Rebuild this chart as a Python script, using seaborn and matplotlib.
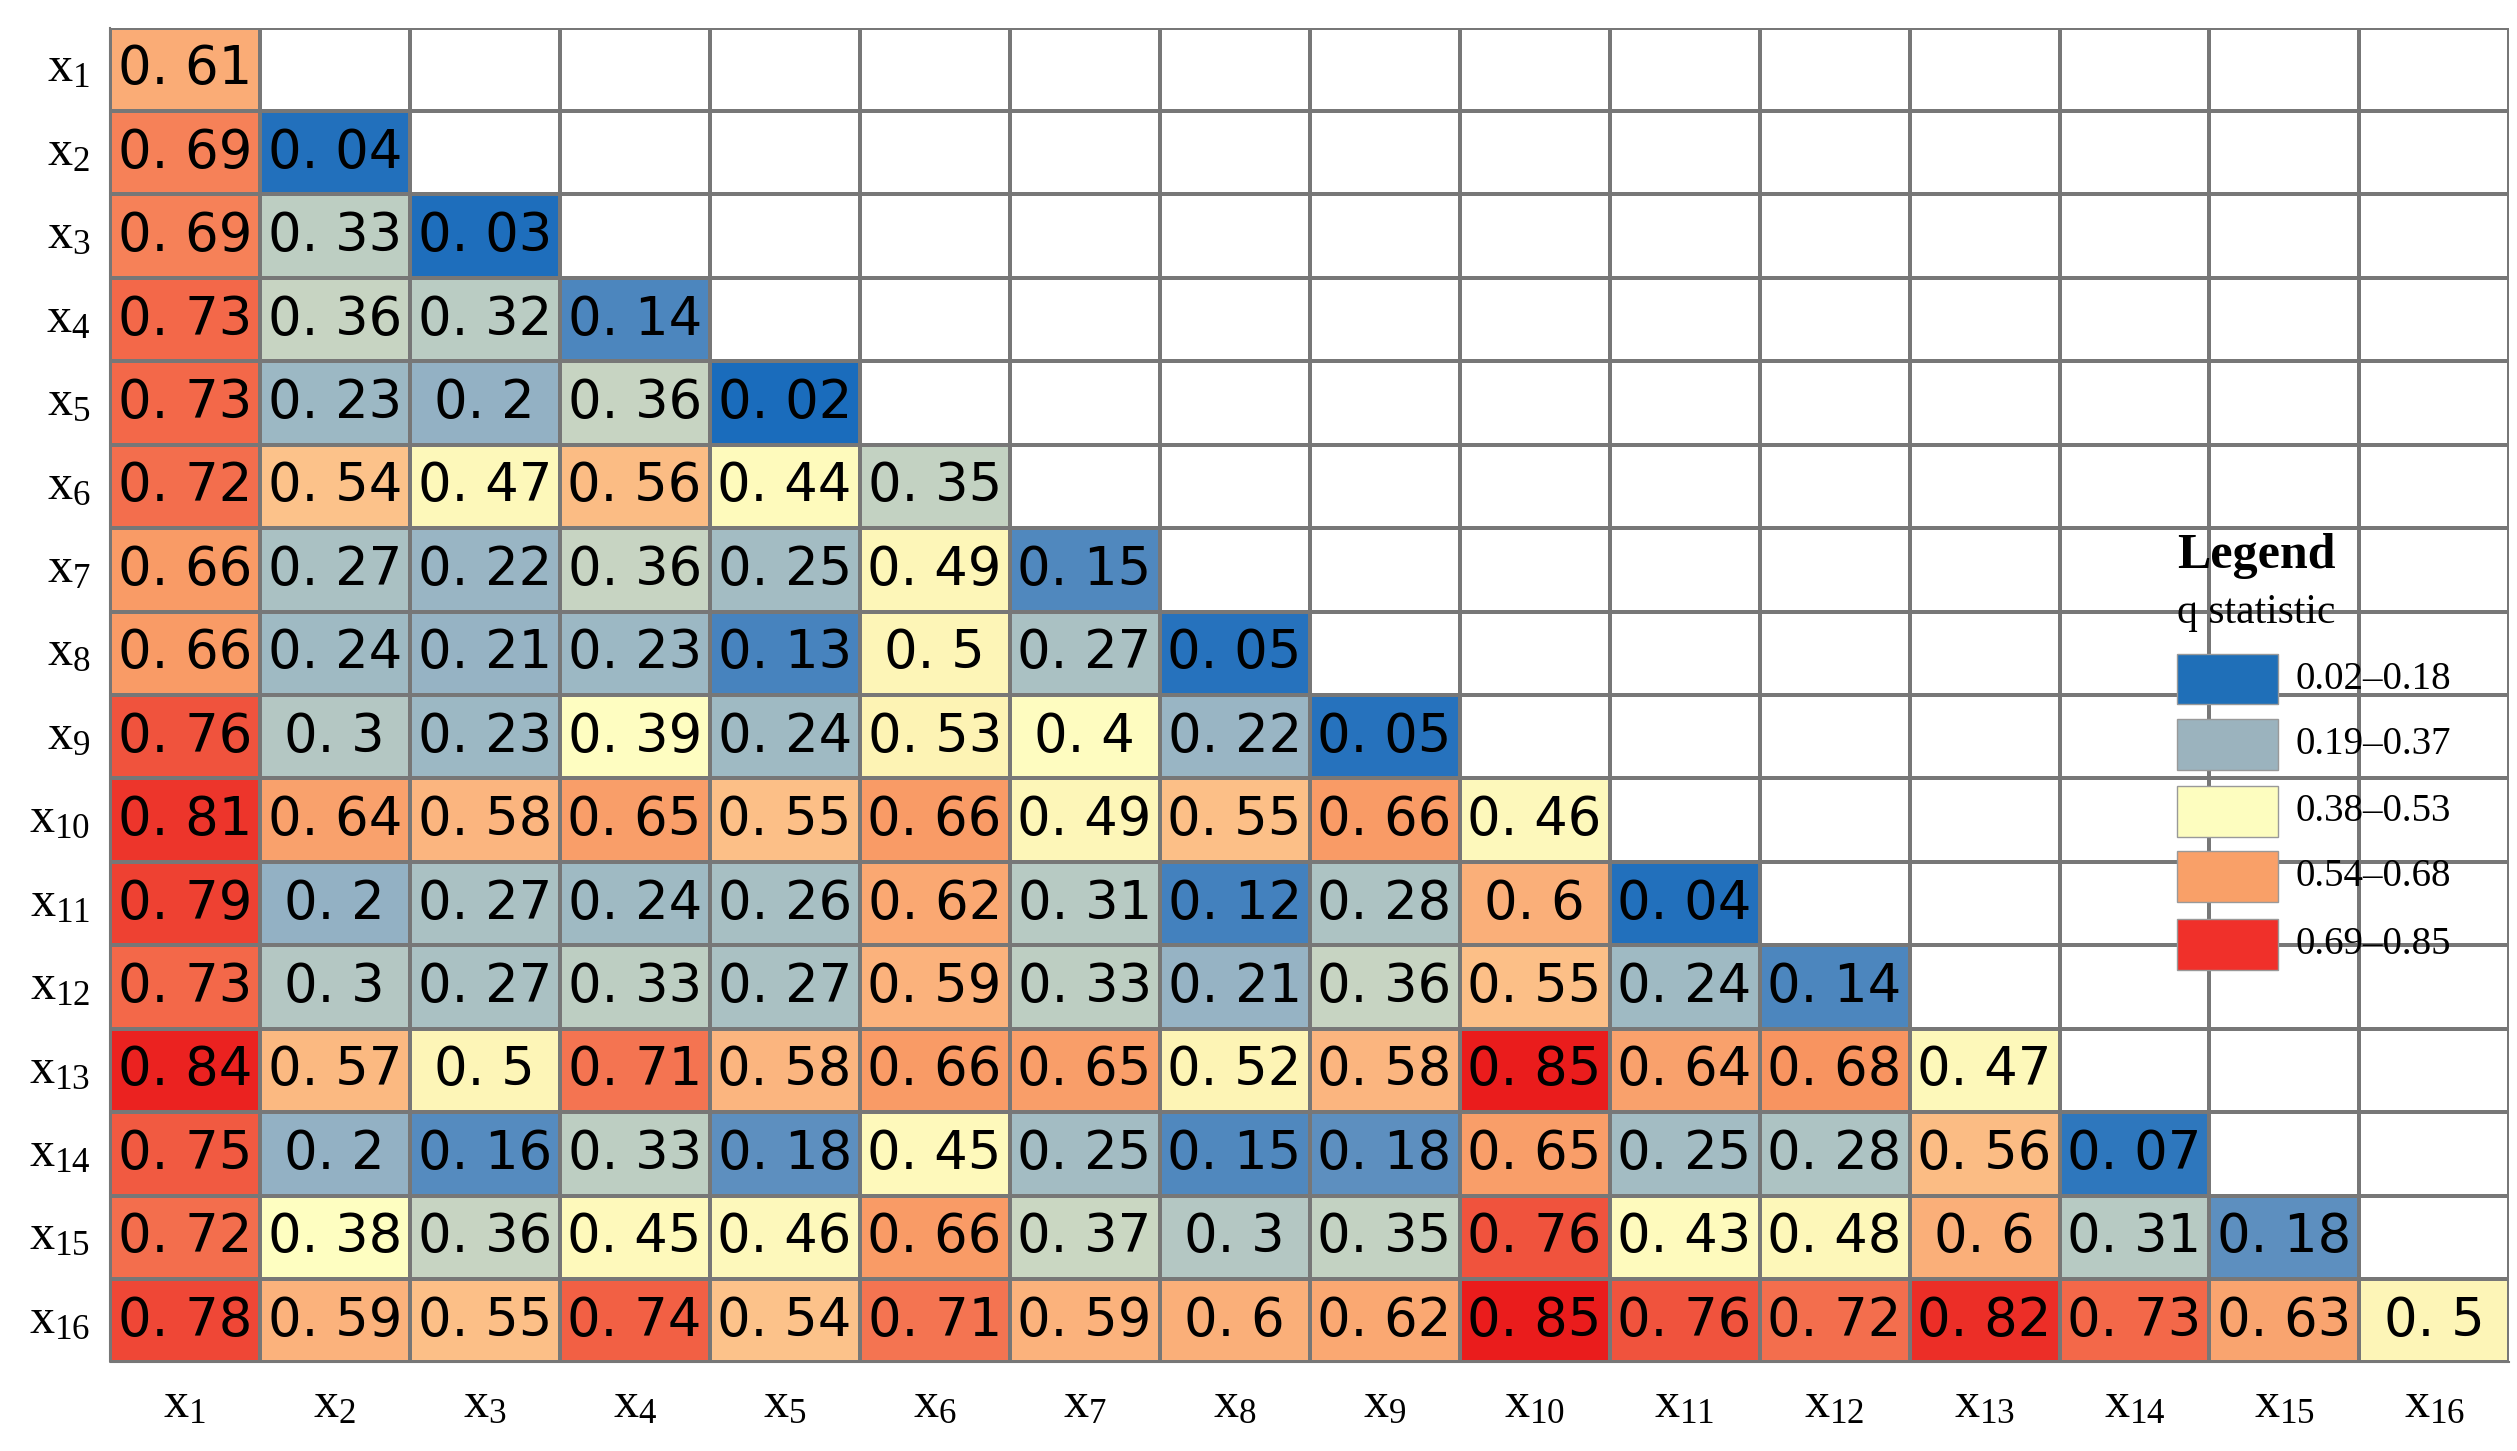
import numpy as np
import matplotlib
matplotlib.use("Agg")
import matplotlib.pyplot as plt
import seaborn as sns
from matplotlib.colors import LinearSegmentedColormap
from matplotlib.patches import Rectangle

labels = [f"x{i}" for i in range(1, 17)]
rows = [
    [0.61],
    [0.69, 0.04],
    [0.69, 0.33, 0.03],
    [0.73, 0.36, 0.32, 0.14],
    [0.73, 0.23, 0.2, 0.36, 0.02],
    [0.72, 0.54, 0.47, 0.56, 0.44, 0.35],
    [0.66, 0.27, 0.22, 0.36, 0.25, 0.49, 0.15],
    [0.66, 0.24, 0.21, 0.23, 0.13, 0.5, 0.27, 0.05],
    [0.76, 0.3, 0.23, 0.39, 0.24, 0.53, 0.4, 0.22, 0.05],
    [0.81, 0.64, 0.58, 0.65, 0.55, 0.66, 0.49, 0.55, 0.66, 0.46],
    [0.79, 0.2, 0.27, 0.24, 0.26, 0.62, 0.31, 0.12, 0.28, 0.6, 0.04],
    [0.73, 0.3, 0.27, 0.33, 0.27, 0.59, 0.33, 0.21, 0.36, 0.55, 0.24, 0.14],
    [0.84, 0.57, 0.5, 0.71, 0.58, 0.66, 0.65, 0.52, 0.58, 0.85, 0.64, 0.68, 0.47],
    [0.75, 0.2, 0.16, 0.33, 0.18, 0.45, 0.25, 0.15, 0.18, 0.65, 0.25, 0.28, 0.56, 0.07],
    [0.72, 0.38, 0.36, 0.45, 0.46, 0.66, 0.37, 0.3, 0.35, 0.76, 0.43, 0.48, 0.6, 0.31, 0.18],
    [0.78, 0.59, 0.55, 0.74, 0.54, 0.71, 0.59, 0.6, 0.62, 0.85, 0.76, 0.72, 0.82, 0.73, 0.63, 0.5],
]
class_labels = ["0.02–0.18", "0.19–0.37", "0.38–0.53", "0.54–0.68", "0.69–0.85"]
class_colors = ["#1f6fb8", "#9bb3be", "#fdfdbf", "#f9a068", "#f0302a"]

n = len(rows)
mat = np.full((n, n), np.nan)
for i, r in enumerate(rows):
    mat[i, :len(r)] = r
mask = np.isnan(mat)
annot = np.empty((n, n), dtype=object)
annot[:] = ""
for i, r in enumerate(rows):
    for j, v in enumerate(r):
        annot[i, j] = f"{v:g}".replace(".", ". ")

vmin, vmax = 0.02, 0.85
def p(v):
    return (v - vmin) / (vmax - vmin)

# piecewise classes with a slight shade inside each class
stops = [
    (0.0, "#1a6cbc"), (p(0.185) - 1e-4, "#5f90bf"),
    (p(0.185), "#8eaec4"), (p(0.375) - 1e-4, "#ccd8c2"),
    (p(0.375), "#fefec2"), (p(0.535) - 1e-4, "#fdf3b4"),
    (p(0.535), "#fcc48c"), (p(0.685) - 1e-4, "#f8935f"),
    (p(0.685), "#f6845a"), (1.0, "#ea1c1c"),
]
cmap = LinearSegmentedColormap.from_list("q", stops)

fig = plt.figure(figsize=(25.17, 14.51), dpi=100)
ax = fig.add_axes([0.0436, 0.061, 0.9534, 0.92])
sns.heatmap(mat, ax=ax, mask=mask, cmap=cmap, vmin=vmin, vmax=vmax, cbar=False,
            annot=annot, fmt="", annot_kws={"fontsize": 38, "color": "black"},
            linewidths=1.5, linecolor="#777777", square=False)
ax.plot([0, 0, n], [0, n, n], color="#777777", lw=1.5, clip_on=False)

tick_labels = [rf"$\mathregular{{x_{{{i}}}}}$" for i in range(1, 17)]
ax.set_xticks(np.arange(n) + 0.5)
ax.set_xticklabels(tick_labels, family="Liberation Serif", fontsize=36, rotation=0)
ax.set_yticks(np.arange(n) + 0.5)
ax.set_yticklabels(tick_labels, family="Liberation Serif", fontsize=36, rotation=0)
ax.tick_params(length=0, pad=14)
ax.set_xlabel("")
ax.set_ylabel("")

# legend
fig.text(0.865, 0.617, "Legend", family="Liberation Serif", fontsize=36, fontweight="bold", va="center")
fig.text(0.865, 0.578, "q statistic", family="Liberation Serif", fontsize=30, va="center")
ys = [0.532, 0.487, 0.441, 0.396, 0.349]
for y, c, t in zip(ys, class_colors, class_labels):
    fig.add_artist(Rectangle((0.865, y - 0.0175), 0.04, 0.035, transform=fig.transFigure,
                             facecolor=c, edgecolor="#999999", lw=1))
    fig.text(0.912, y, t, family="Liberation Serif", fontsize=28, va="center")

fig.savefig("out.png", dpi=100)
